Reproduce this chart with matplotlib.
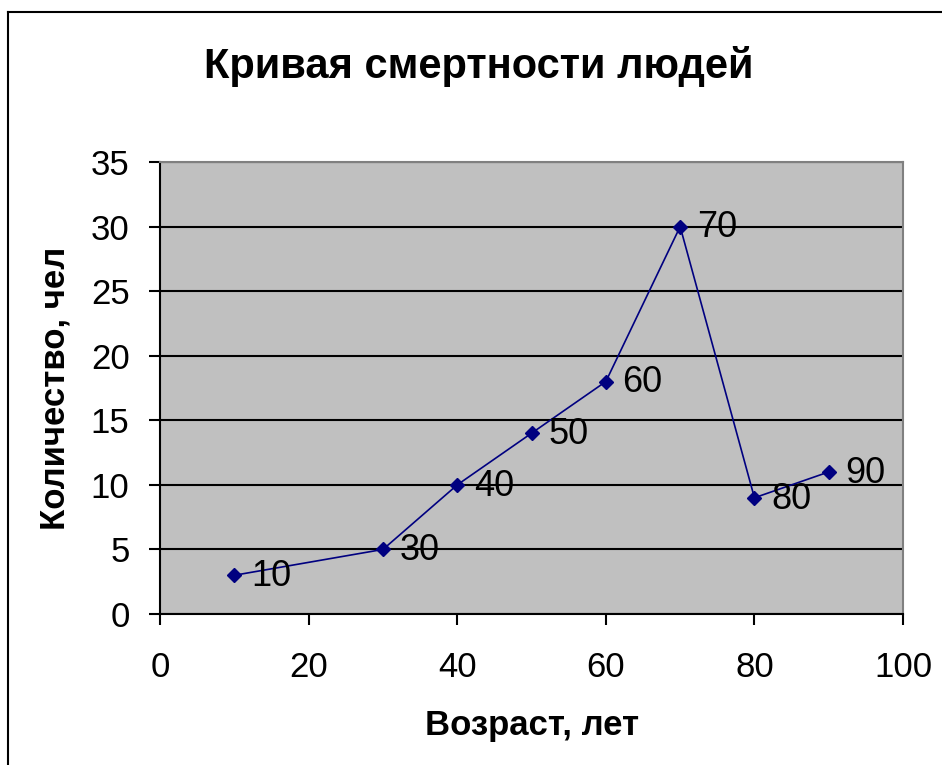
import matplotlib.pyplot as plt
from matplotlib.lines import Line2D

plt.rcParams['font.family'] = ['Liberation Sans', 'DejaVu Sans']

# Data
ages = [10, 30, 40, 50, 60, 70, 80, 90]
deaths = [3, 5, 10, 14, 18, 30, 9, 11]
point_labels = ['10', '30', '40', '50', '60', '70', '80', '90']

fig = plt.figure(figsize=(9.42, 7.65), dpi=100)
ax = fig.add_axes([0.170, 0.1974, 0.7886, 0.5908])

# outer chart frame (only left and top visible in the crop)
fig.add_artist(Line2D([0.0085, 0.0085], [0.0, 0.984], transform=fig.transFigure,
                      color='black', lw=1.5))
fig.add_artist(Line2D([0.0085, 1.0], [0.984, 0.984], transform=fig.transFigure,
                      color='black', lw=1.5))

ax.set_facecolor('#C0C0C0')
ax.plot(ages, deaths, color='#000080', lw=1.2, marker='D', markersize=7,
        markerfacecolor='#000080', markeredgecolor='#000080', zorder=3)

for x, y, lab in zip(ages, deaths, point_labels):
    ax.annotate(lab, xy=(x, y), xytext=(12, -1), textcoords='offset points',
                ha='left', va='center', fontsize=26)

ax.set_xlim(0, 100)
ax.set_ylim(0, 35)
ax.set_xticks(range(0, 101, 20))
ax.set_yticks(range(0, 36, 5))
ax.grid(axis='y', color='black', lw=1.5)
ax.set_axisbelow(True)

for side in ['top', 'right']:
    ax.spines[side].set_color('#808080')
    ax.spines[side].set_linewidth(1.5)
for side in ['left', 'bottom']:
    ax.spines[side].set_color('black')
    ax.spines[side].set_linewidth(1.5)

ax.tick_params(axis='both', direction='out', length=8, width=1.5, labelsize=25)
ax.tick_params(axis='x', pad=19)
ax.tick_params(axis='y', pad=14)

ax.set_xlabel('Возраст, лет', fontsize=25, fontweight='bold', labelpad=18)
ax.set_ylabel('Количество, чел', fontsize=25, fontweight='bold', labelpad=14)
fig.text(0.508, 0.913, 'Кривая смертности людей', ha='center', va='center',
         fontsize=30, fontweight='bold')

plt.savefig('out.png', dpi=100)
